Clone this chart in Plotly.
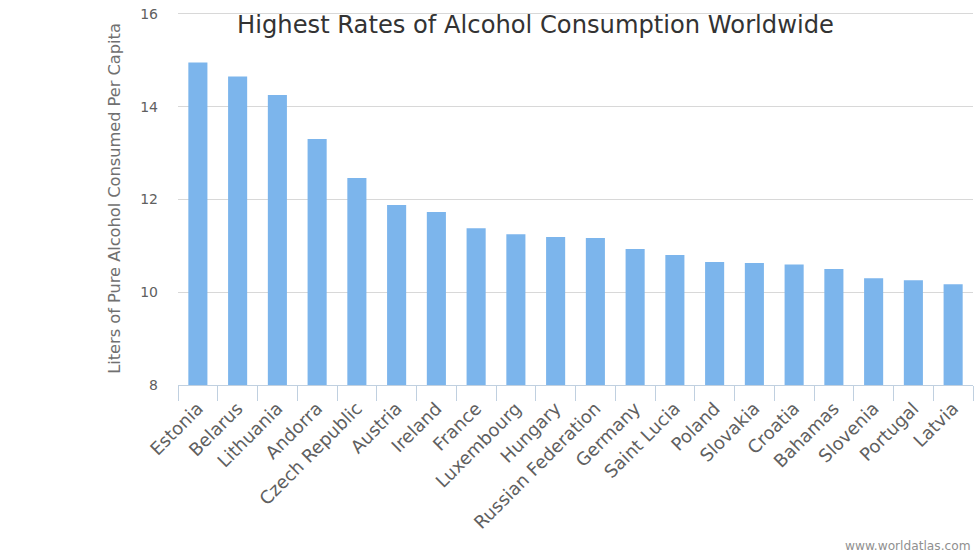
import plotly.graph_objects as go

countries = ["Estonia", "Belarus", "Lithuania", "Andorra", "Czech Republic", "Austria", "Ireland",
             "France", "Luxembourg", "Hungary", "Russian Federation", "Germany", "Saint Lucia",
             "Poland", "Slovakia", "Croatia", "Bahamas", "Slovenia", "Portugal", "Latvia"]
liters = [14.95, 14.65, 14.25, 13.3, 12.46, 11.88, 11.73, 11.38, 11.25, 11.19, 11.17, 10.93,
          10.8, 10.65, 10.63, 10.6, 10.5, 10.3, 10.26, 10.17]
y_ticks = [8, 10, 12, 14, 16]


def main():
    fig = go.Figure()
    fig.add_trace(
        go.Bar(
            x=countries,
            y=liters,
            marker=dict(color="#7cb5ec", line_width=0),
            showlegend=False,
        )
    )
    fig.update_layout(
        width=980,
        height=557,
        margin=dict(l=178, r=7, t=11.6, b=172, autoexpand=False),
        paper_bgcolor="white",
        plot_bgcolor="white",
        bargap=0.52,
        font=dict(family="DejaVu Sans", color="#606060"),
        title=dict(
            text="Highest Rates of Alcohol Consumption Worldwide",
            x=535.5 / 980,
            xanchor="center",
            y=1 - 25 / 557,
            yanchor="middle",
            font=dict(size=24.2, color="#333333"),
        ),
    )
    fig.update_xaxes(
        type="category",
        tickangle=-45,
        tickfont_size=17.9,
        ticklabelstandoff=5,
        tickson="boundaries",
        ticks="outside",
        ticklen=15,
        tickwidth=1,
        tickcolor="#c0d0e0",
        showline=True,
        linecolor="#c0d0e0",
        linewidth=1,
        showgrid=False,
    )
    fig.update_yaxes(
        range=[8, 16.04],  # a little headroom so the grid line at 16 is kept
        tickvals=y_ticks,
        tickfont_size=14,
        ticklabelstandoff=19,
        ticklabeloverflow="allow",
        ticks="",
        showgrid=True,
        gridcolor="#d8d8d8",
        gridwidth=1,
        zeroline=False,
        title=dict(
            text="Liters of Pure Alcohol Consumed Per Capita",
            font=dict(size=16.2, color="#707070"),
            standoff=15,
        ),
    )
    fig.add_annotation(
        x=1,
        y=0,
        xref="paper",
        yref="paper",
        xanchor="right",
        yanchor="middle",
        yshift=-161,
        text="www.worldatlas.com",
        showarrow=False,
        font=dict(size=12.2, color="#909090"),
    )
    # drop the page's default body margin so the figure fills the window
    fig.write_html(
        "out.html",
        config=dict(displayModeBar=False),
        post_script="document.body.style.margin='0';document.body.style.overflow='hidden';",
    )


if __name__ == "__main__":
    main()
